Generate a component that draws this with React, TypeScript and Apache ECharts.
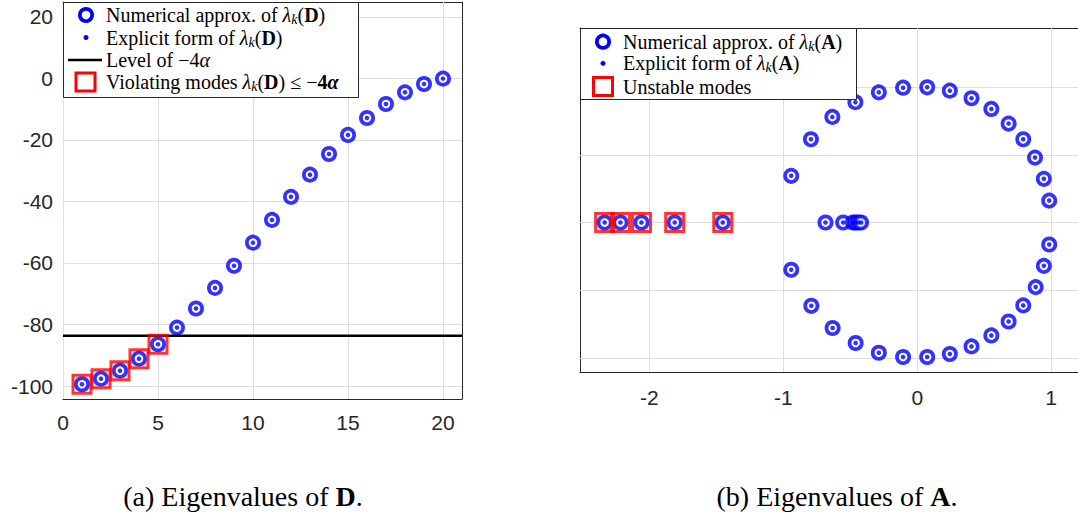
import React, { useEffect, useRef } from "react";
import * as echarts from "echarts";

// ---- Left panel: eigenvalues of D ----
const kIdx = [1, 2, 3, 4, 5, 6, 7, 8, 9, 10, 11, 12, 13, 14, 15, 16, 17, 18, 19, 20];
const dVals = [-99.4, -97.6, -95.0, -91.1, -86.4, -81.0, -74.8, -68.1, -60.9, -53.4, -46.0, -38.5, -31.3, -24.6, -18.4, -12.9, -8.35, -4.55, -1.85, -0.1];
const levelVal = -83.65;
const leftXTicks = [0, 5, 10, 15, 20];
const leftYTicks = [-100, -80, -60, -40, -20, 0, 20];

// ---- Right panel: eigenvalues of A (complex plane) ----
const upRe = [-0.941, -0.794, -0.634, -0.462, -0.287, -0.106, 0.074, 0.243, 0.405, 0.553, 0.682, 0.791, 0.879, 0.945, 0.985];
const upIm = [0.345, 0.615, 0.78, 0.889, 0.962, 0.996, 0.999, 0.974, 0.918, 0.839, 0.731, 0.615, 0.48, 0.323, 0.162];
const loRe = [-0.941, -0.791, -0.632, -0.46, -0.287, -0.106, 0.074, 0.243, 0.405, 0.553, 0.682, 0.791, 0.884, 0.945, 0.985];
const loIm = [-0.349, -0.615, -0.779, -0.89, -0.962, -0.993, -0.993, -0.971, -0.915, -0.834, -0.731, -0.612, -0.477, -0.32, -0.162];
const realRe = [-2.334, -2.216, -2.059, -1.811, -1.452, -0.685, -0.553, -0.48, -0.46, -0.44, -0.42];
const rightXTicks = [-2, -1, 0, 1];
const rightYTicks = [-1, -0.5, 0, 0.5, 1];

const BLUE = "#0000ff";
const RED = "#ff0000";
const AX = "#262626";
const GRID = "#dedede";
const SERIF = "'Liberation Serif', 'DejaVu Serif', serif";
const SANS = "'Liberation Sans', Arial, sans-serif";

const ringStyle = { color: "#ffffff", borderColor: BLUE, borderWidth: 3.7 };
const squareStyle = { color: "rgba(0,0,0,0)", borderColor: RED, borderWidth: 3 };

function richDefs(size: number) {
  return {
    n: { fontFamily: SERIF, fontSize: size, fill: "#000" },
    i: { fontFamily: SERIF, fontSize: size, fontStyle: "italic", fill: "#000" },
    b: { fontFamily: SERIF, fontSize: size, fontWeight: "bold", fill: "#000" },
    bi: { fontFamily: SERIF, fontSize: size, fontWeight: "bold", fontStyle: "italic", fill: "#000" },
    s: { fontFamily: SERIF, fontSize: size * 0.7, fontStyle: "italic", fill: "#000", padding: [9, 0, 0, 0] },
  };
}

function legendText(x: number, y: number, text: string) {
  return {
    type: "text",
    x,
    y,
    z: 101,
    style: { text, rich: richDefs(20), fontFamily: SERIF, fontSize: 20, fill: "#000", verticalAlign: "middle", align: "left" },
  };
}

function gridLines(xi: number, yi: number, xs: number[], ys: number[]) {
  return {
    type: "scatter",
    xAxisIndex: xi,
    yAxisIndex: yi,
    data: [],
    z: 1,
    silent: true,
    markLine: {
      z: 1,
      silent: true,
      symbol: ["none", "none"],
      label: { show: false },
      lineStyle: { color: GRID, width: 1, type: "solid" },
      emphasis: { disabled: true },
      data: [...xs.map((v) => ({ xAxis: v })), ...ys.map((v) => ({ yAxis: v }))],
    },
  };
}

export default function App() {
  const ref = useRef<HTMLDivElement>(null);
  useEffect(() => {
    if (!ref.current) return;
    const chart = echarts.init(ref.current, undefined, { renderer: "svg" });

    const dPts = kIdx.map((k, i) => [k, dVals[i]]);
    const viol = dPts.filter((p) => p[1] <= levelVal);
    const aPts = [
      ...upRe.map((r, i) => [r, upIm[i]]),
      ...loRe.map((r, i) => [r, loIm[i]]),
      ...realRe.map((r) => [r, 0]),
    ];
    const unstable = aPts.filter((p) => Math.hypot(p[0], p[1]) > 1.05);

    const tickLabel = { color: AX, fontFamily: SANS, fontSize: 21 };
    const axLine = { show: true, onZero: false, lineStyle: { color: AX, width: 1 } };
    const noSplit = { show: false };

    const option: any = {
      animation: false,
      backgroundColor: "#fff",
      grid: [
        { left: 63, top: 2, width: 399, height: 397 },
        { left: 580, top: 28, width: 505, height: 344 },
      ],
      xAxis: [
        {
          gridIndex: 0, type: "value", min: 0, max: 21, position: "bottom",
          axisLine: axLine, splitLine: noSplit,
          axisTick: { inside: true, length: 5, lineStyle: { color: AX }, customValues: leftXTicks },
          axisLabel: { ...tickLabel, margin: 13, customValues: leftXTicks },
        },
        {
          gridIndex: 0, type: "value", min: 0, max: 21, position: "top",
          axisLine: axLine, splitLine: noSplit,
          axisTick: { inside: true, length: 5, lineStyle: { color: AX }, customValues: leftXTicks },
          axisLabel: { show: false },
        },
        {
          gridIndex: 1, type: "value", min: -2.518, max: 1.2, position: "bottom",
          axisLine: axLine, splitLine: noSplit,
          axisTick: { inside: true, length: 5, lineStyle: { color: AX }, customValues: rightXTicks },
          axisLabel: { ...tickLabel, margin: 15, customValues: rightXTicks },
        },
        {
          gridIndex: 1, type: "value", min: -2.518, max: 1.2, position: "top",
          axisLine: axLine, splitLine: noSplit,
          axisTick: { inside: true, length: 5, lineStyle: { color: AX }, customValues: rightXTicks },
          axisLabel: { show: false },
        },
      ],
      yAxis: [
        {
          gridIndex: 0, type: "value", min: -104.2, max: 24.8, position: "left",
          axisLine: axLine, splitLine: noSplit,
          axisTick: { inside: true, length: 5, lineStyle: { color: AX }, customValues: leftYTicks },
          axisLabel: { ...tickLabel, margin: 10, customValues: leftYTicks },
        },
        {
          gridIndex: 0, type: "value", min: -104.2, max: 24.8, position: "right",
          axisLine: axLine, splitLine: noSplit,
          axisTick: { inside: true, length: 5, lineStyle: { color: AX }, customValues: leftYTicks },
          axisLabel: { show: false },
        },
        {
          gridIndex: 1, type: "value", min: -1.104, max: 1.437, position: "left",
          axisLine: axLine, splitLine: noSplit,
          axisTick: { inside: true, length: 5, lineStyle: { color: AX }, customValues: rightYTicks },
          axisLabel: { show: false },
        },
      ],
      series: [
        gridLines(0, 0, leftXTicks, leftYTicks),
        gridLines(2, 2, rightXTicks, rightYTicks),
        {
          type: "scatter", xAxisIndex: 0, yAxisIndex: 0, data: dPts,
          symbol: "circle", symbolSize: 12.3, itemStyle: ringStyle, z: 3,
        },
        {
          type: "scatter", xAxisIndex: 0, yAxisIndex: 0, data: dPts,
          symbol: "circle", symbolSize: 4.6, itemStyle: { color: BLUE }, z: 4,
        },
        {
          type: "line", xAxisIndex: 0, yAxisIndex: 0,
          data: [[0, levelVal], [21, levelVal]], symbol: "none",
          lineStyle: { color: "#000", width: 2.5 }, z: 5,
        },
        {
          type: "scatter", xAxisIndex: 0, yAxisIndex: 0, data: viol,
          symbol: "rect", symbolSize: 18, itemStyle: squareStyle, z: 6,
        },
        {
          type: "scatter", xAxisIndex: 2, yAxisIndex: 2, data: aPts,
          symbol: "circle", symbolSize: 12.3, itemStyle: ringStyle, z: 3,
        },
        {
          type: "scatter", xAxisIndex: 2, yAxisIndex: 2, data: aPts,
          symbol: "circle", symbolSize: 4.6, itemStyle: { color: BLUE }, z: 4,
        },
        {
          type: "scatter", xAxisIndex: 2, yAxisIndex: 2, data: unstable,
          symbol: "rect", symbolSize: 18, itemStyle: squareStyle, z: 6,
        },
      ],
      graphic: [
        // left legend
        { type: "rect", z: 100, shape: { x: 63.5, y: 2.5, width: 295, height: 95 }, style: { fill: "#fff", stroke: AX, lineWidth: 1 } },
        { type: "circle", z: 101, shape: { cx: 86, cy: 15, r: 6.15 }, style: { fill: "none", stroke: BLUE, lineWidth: 3.7 } },
        legendText(106, 15, "{n|Numerical approx. of }{i|λ}{s|k}{n|(}{b|D}{n|)}"),
        { type: "circle", z: 101, shape: { cx: 86, cy: 37.5, r: 2.5 }, style: { fill: BLUE } },
        legendText(106, 37.5, "{n|Explicit form of }{i|λ}{s|k}{n|(}{b|D}{n|)}"),
        { type: "line", z: 101, shape: { x1: 68, y1: 60, x2: 102, y2: 60 }, style: { stroke: "#000", lineWidth: 2.5 } },
        legendText(106, 60, "{n|Level of −4}{i|α}"),
        { type: "rect", z: 101, shape: { x: 76, y: 73, width: 19, height: 18 }, style: { fill: "none", stroke: RED, lineWidth: 3 } },
        legendText(106, 82, "{n|Violating modes }{i|λ}{s|k}{n|(}{b|D}{n|) ≤ −}{b|4}{bi|α}"),
        // right legend
        { type: "rect", z: 100, shape: { x: 580.5, y: 28.5, width: 276, height: 71 }, style: { fill: "#fff", stroke: AX, lineWidth: 1 } },
        { type: "circle", z: 101, shape: { cx: 603, cy: 41.7, r: 6.15 }, style: { fill: "none", stroke: BLUE, lineWidth: 3.7 } },
        legendText(623, 41.7, "{n|Numerical approx. of }{i|λ}{s|k}{n|(}{b|A}{n|)}"),
        { type: "circle", z: 101, shape: { cx: 603, cy: 63.3, r: 2.5 }, style: { fill: BLUE } },
        legendText(623, 63.3, "{n|Explicit form of }{i|λ}{s|k}{n|(}{b|A}{n|)}"),
        { type: "rect", z: 101, shape: { x: 593.5, y: 77.5, width: 19, height: 18 }, style: { fill: "none", stroke: RED, lineWidth: 3 } },
        legendText(623, 86.7, "{n|Unstable modes}"),
        // captions
        {
          type: "text", x: 243, y: 496, z: 101,
          style: { text: "{n|(a) Eigenvalues of }{b|D}{n|.}", rich: richDefs(28), fontSize: 28, fontFamily: SERIF, align: "center", verticalAlign: "middle", fill: "#000" },
        },
        {
          type: "text", x: 837, y: 496, z: 101,
          style: { text: "{n|(b) Eigenvalues of }{b|A}{n|.}", rich: richDefs(28), fontSize: 28, fontFamily: SERIF, align: "center", verticalAlign: "middle", fill: "#000" },
        },
      ],
    };
    chart.setOption(option);
    return () => chart.dispose();
  }, []);
  return (
    <div
      ref={ref}
      style={{ position: "fixed", left: 0, top: 0, width: 1078, height: 522, background: "#fff" }}
    />
  );
}
